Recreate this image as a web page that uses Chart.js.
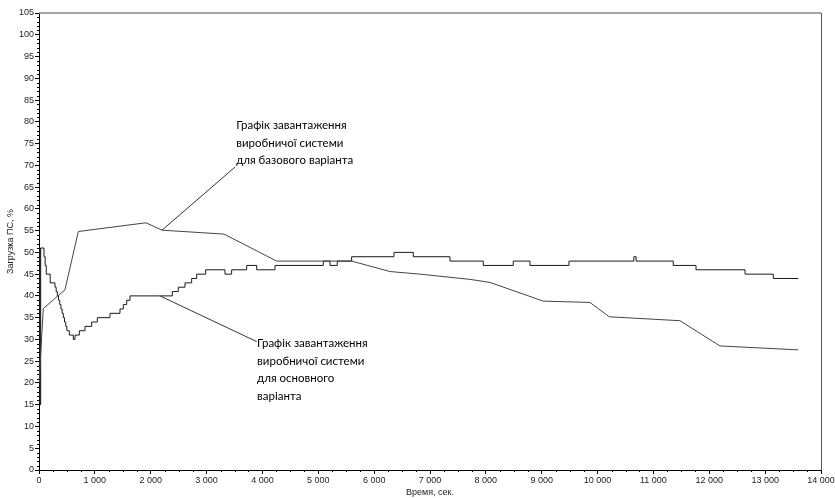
<!DOCTYPE html>
<html>
<head>
<meta charset="utf-8">
<script src="https://cdn.jsdelivr.net/npm/chart.js@4/dist/chart.umd.min.js"></script>
<style>
    body { margin: 0; background: #fff; }
    canvas { display: block; }
</style>
</head>
<body>
<canvas id="myChart" width="835" height="498"></canvas>
<script>
// базовий варіант (плавна лінія)
const timeBase = [0, 77, 465, 704, 1915, 2202, 3312, 4255, 5597, 6283, 6820, 7716, 8074, 9028, 9864, 10210, 11475, 12191, 13593];
const loadBase = [20, 37.1, 41.4, 54.8, 56.8, 55.1, 54.2, 48, 48, 45.6, 45, 43.8, 43.1, 38.8, 38.5, 35.2, 34.3, 28.5, 27.6];

// основний варіант (ступінчаста лінія)
const timeMain = [0, 10, 20, 30, 90, 110, 130, 200, 286, 307, 328, 350, 371, 393, 414, 436, 457, 479, 500, 521, 543,
    614, 645, 722, 823, 943, 1044, 1271, 1450, 1510, 1570, 1629, 2387, 2494, 2614, 2733, 2823, 2984, 3330, 3449,
    3718, 3897, 4225, 5090, 5210, 5340, 5597, 6355, 6701, 7358, 7954, 8491, 8790, 9488, 10650, 10690, 11355,
    11762, 12640, 13146, 13593];
const loadMain = [15, 51, 15, 51, 49, 47, 45, 43, 42, 41, 40, 39, 38, 37, 36, 35, 34, 33, 32, 32, 31,
    30, 31, 32, 33, 34, 35, 36, 37, 38, 39, 40, 41, 42, 43, 44, 45, 46, 45, 46,
    47, 46, 47, 48, 47, 48, 49, 50, 49, 48, 47, 48, 47, 48, 49, 48, 47,
    46, 45, 44, 44];

const xTicksMax = 14000;
const yTicksMax = 105;

// підписи з виносками: точка на лінії, кінець виноски, початок тексту (в одиницях осей)
const notes = [
    { lines: ['Графік завантаження', 'виробничої системи', 'для базового варіанта'],
      anchor: [2202, 55.1], end: [3510, 69.6], text: [3530, 79.1] },
    { lines: ['Графік завантаження', 'виробничої системи', 'для основного', 'варіанта'],
      anchor: [2166, 40], end: [3897, 29.5], text: [3905, 29.0] }
];

function toPoints(xs, ys) {
    return xs.map(function(x, i) { return { x: x, y: ys[i] }; });
}

function fmtThousands(v) {
    return String(v).replace(/\B(?=(\d{3})+(?!\d))/g, ' ');
}

const framePlugin = {
    id: 'frame',
    afterDraw: function(chart) {
        const ctx = chart.ctx;
        const a = chart.chartArea;
        const sx = chart.scales.x;
        const sy = chart.scales.y;
        ctx.save();
        // верхня і права рамка
        ctx.strokeStyle = '#8a8a8a';
        ctx.lineWidth = 1.5;
        ctx.beginPath();
        ctx.moveTo(a.left, a.top);
        ctx.lineTo(a.right, a.top);
        ctx.stroke();
        ctx.strokeStyle = '#555';
        ctx.lineWidth = 1;
        ctx.beginPath();
        ctx.moveTo(a.right + 0.5, a.top);
        ctx.lineTo(a.right + 0.5, a.bottom);
        ctx.stroke();
        // дрібні поділки
        ctx.strokeStyle = '#000';
        ctx.beginPath();
        for (let v = 0; v <= yTicksMax; v++) {
            if (v % 5 === 0) continue;
            const y = Math.round(sy.getPixelForValue(v)) + 0.5;
            ctx.moveTo(a.left - 2, y);
            ctx.lineTo(a.left, y);
        }
        for (let t = 0; t <= xTicksMax; t += 250) {
            if (t % 1000 === 0) continue;
            const x = Math.round(sx.getPixelForValue(t)) + 0.5;
            ctx.moveTo(x, a.bottom);
            ctx.lineTo(x, a.bottom + 2);
        }
        ctx.stroke();
        // виноски
        ctx.font = '11.5px Lato';
        ctx.fillStyle = '#000';
        ctx.textBaseline = 'middle';
        ctx.strokeStyle = '#333';
        notes.forEach(function(n) {
            ctx.beginPath();
            ctx.moveTo(sx.getPixelForValue(n.anchor[0]), sy.getPixelForValue(n.anchor[1]));
            ctx.lineTo(sx.getPixelForValue(n.end[0]), sy.getPixelForValue(n.end[1]));
            ctx.stroke();
            const tx = sx.getPixelForValue(n.text[0]);
            const ty = sy.getPixelForValue(n.text[1]);
            n.lines.forEach(function(s, i) {
                ctx.fillText(s, tx, ty + i * 17.5);
            });
        });
        ctx.restore();
    }
};

const data = {
    datasets: [{
        label: 'базовий',
        data: toPoints(timeBase, loadBase),
        borderColor: '#444',
        borderWidth: 1,
        pointRadius: 0,
        tension: 0
    }, {
        label: 'основний',
        data: toPoints(timeMain, loadMain),
        borderColor: '#1a1a1a',
        borderWidth: 1,
        pointRadius: 0,
        stepped: true
    }]
};

const config = {
    type: 'line',
    data: data,
    options: {
        responsive: false,
        animation: false,
        layout: { padding: { left: 5, top: 13, right: 14, bottom: 0 } },
        plugins: {
            legend: { display: false },
            tooltip: { enabled: false }
        },
        scales: {
            x: {
                type: 'linear',
                min: 0,
                max: xTicksMax,
                ticks: {
                    stepSize: 1000,
                    maxRotation: 0,
                    autoSkip: false,
                    padding: 1,
                    color: '#222',
                    font: { family: 'Liberation Sans', size: 9 },
                    callback: function(v) { return fmtThousands(v); }
                },
                grid: { drawOnChartArea: false, tickLength: 4, color: '#000' },
                border: { color: '#000', width: 1 },
                title: {
                    display: true,
                    text: 'Время, сек.',
                    color: '#222',
                    font: { family: 'Liberation Sans', size: 9 },
                    padding: { top: 1, bottom: 0 }
                },
                afterFit: function(scale) {
                    scale.height = 28;
                    scale.paddingLeft = 0;
                    scale.paddingRight = 0;
                }
            },
            y: {
                min: 0,
                max: yTicksMax,
                ticks: {
                    stepSize: 5,
                    autoSkip: false,
                    padding: 1,
                    color: '#222',
                    font: { family: 'Liberation Sans', size: 9 }
                },
                grid: { drawOnChartArea: false, tickLength: 4, color: '#000' },
                border: { color: '#000', width: 1 },
                title: {
                    display: true,
                    text: 'Загрузка ПС, %',
                    color: '#222',
                    font: { family: 'Liberation Sans', size: 9 },
                    padding: 0
                },
                afterFit: function(scale) {
                    scale.width = 34;
                    scale.paddingTop = 0;
                    scale.paddingBottom = 0;
                }
            }
        }
    },
    plugins: [framePlugin]
};

const myChart = new Chart(
    document.getElementById('myChart'),
    config
);
</script>
</body>
</html>
